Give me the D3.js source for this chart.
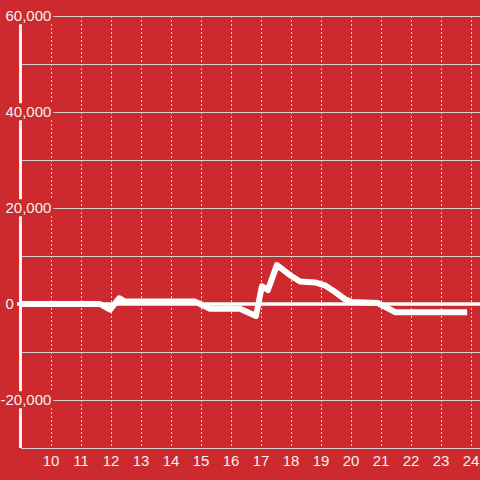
<!DOCTYPE html>
<html><head><meta charset="utf-8">
<script src="https://cdn.jsdelivr.net/npm/d3@7"></script>
<style>html,body{margin:0;padding:0;background:#cc2a2f;}svg{display:block;}</style>
</head><body><svg id="c" width="480" height="480"></svg>
<script>
const hours = [9.0, 11.63, 11.97, 12.27, 12.47, 14.8, 15.3, 16.3, 16.83, 17.03, 17.23, 17.53, 17.97, 18.3, 18.8, 19.13, 19.47, 19.8, 20.03, 20.9, 21.47, 23.87];
const values = [0, 0, -1200, 1200, 500, 500, -1000, -1000, -2500, 3700, 2900, 8100, 6000, 4700, 4500, 3900, 2500, 1000, 400, 200, -1700, -1700];
const xTicks = [10, 11, 12, 13, 14, 15, 16, 17, 18, 19, 20, 21, 22, 23, 24];
const yTicks = [-30000, -20000, -10000, 0, 10000, 20000, 30000, 40000, 50000, 60000];
const yLabelTicks = [-20000, 0, 20000, 40000, 60000];

const bg = "#cc2a2f", fg = "#f4f0f0", grid = "#d8d0d0";
const font = "Liberation Sans, Arial, sans-serif";
const svg = d3.select("#c");
svg.append("rect").attr("width", 480).attr("height", 480).attr("fill", bg);

const x = d3.scaleLinear().domain([9, 24.3]).range([21, 480]);
const y = d3.scaleLinear().domain([-30000, 60000]).range([448, 16]);

// horizontal gridlines
svg.append("g").selectAll("line").data(yTicks).join("line")
  .attr("x1", 21).attr("x2", 480)
  .attr("y1", d => y(d) + 0.5).attr("y2", d => y(d) + 0.5)
  .attr("stroke", grid).attr("stroke-width", 1);

// vertical dotted gridlines
svg.append("g").selectAll("line").data(xTicks).join("line")
  .attr("x1", d => Math.round(x(d)) + 0.5).attr("x2", d => Math.round(x(d)) + 0.5)
  .attr("y1", 16).attr("y2", 448)
  .attr("stroke", grid).attr("stroke-width", 1).attr("stroke-dasharray", "2,2");

// y axis line
svg.append("line").attr("x1", 20.5).attr("x2", 20.5).attr("y1", 16).attr("y2", 448)
  .attr("stroke", "#f2f2f2").attr("stroke-width", 3);

// x axis bottom line
svg.append("line").attr("x1", 21).attr("x2", 480).attr("y1", 448.5).attr("y2", 448.5)
  .attr("stroke", grid).attr("stroke-width", 1);

// zero line
svg.append("line").attr("x1", 17).attr("x2", 480).attr("y1", y(0)).attr("y2", y(0))
  .attr("stroke", "#ffffff").attr("stroke-width", 3.5);

// data line
const pts = hours.map((h, i) => [h, values[i]]);
const line = d3.line().x(d => x(d[0])).y(d => y(d[1])).curve(d3.curveLinear);
svg.append("path").datum(pts).attr("d", line)
  .attr("fill", "none").attr("stroke", "#ffffff").attr("stroke-width", 6)
  .attr("stroke-linejoin", "round");

// x labels
svg.append("g").selectAll("text").data(xTicks).join("text")
  .attr("x", d => x(d)).attr("y", 466)
  .attr("text-anchor", "middle").attr("fill", fg)
  .attr("font-family", font).attr("font-size", 15)
  .text(d => d);

// y labels with background
const fmt = d3.format(",");
const lbl = d => (d < 0 ? "-" : "") + fmt(Math.abs(d));
const probe = svg.append("text").attr("font-family", font).attr("font-size", 15).text("-");
const hyph = probe.node().getComputedTextLength();
probe.remove();
const yl = svg.append("g").selectAll("g").data(yLabelTicks).join("g");
yl.append("text")
  .attr("x", d => d < 0 ? 5.5 - hyph : 5.5).attr("y", d => y(d)).attr("dy", "0.35em")
  .attr("text-anchor", "start").attr("fill", fg)
  .attr("font-family", font).attr("font-size", 15)
  .text(lbl);
yl.each(function(d) {
  if (d === 0) return;
  const t = d3.select(this).select("text");
  const b = t.node().getBBox();
  d3.select(this).insert("rect", "text")
    .attr("x", b.x - 1).attr("y", b.y).attr("width", b.width + 3).attr("height", b.height)
    .attr("fill", bg);
});
</script></body></html>
